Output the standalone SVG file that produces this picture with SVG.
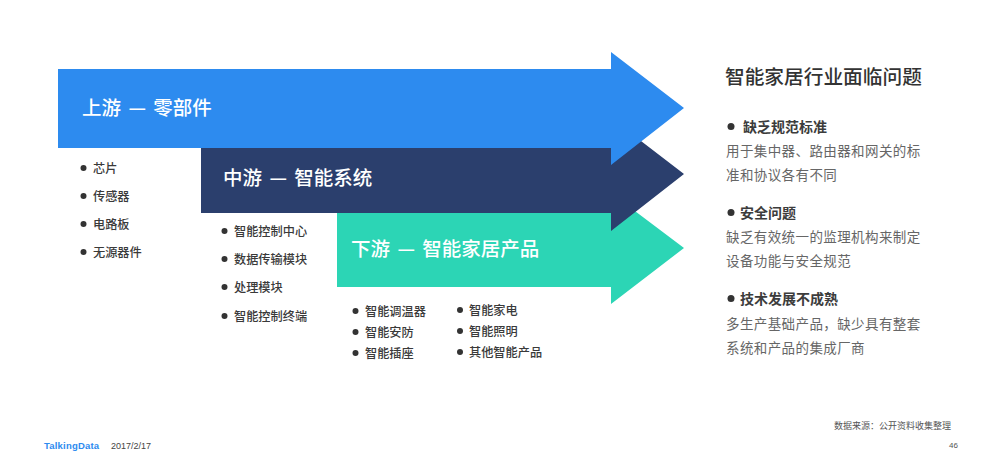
<svg xmlns="http://www.w3.org/2000/svg" width="1001" height="472" viewBox="0 0 1001 472">
<style>
text{font-family:"Noto Sans CJK SC","Liberation Sans",sans-serif}
.h{font-size:19.500px;font-weight:500;fill:#fff;word-spacing:3px}
.l{font-size:12.200px;font-weight:500;fill:#3a3a3a}
.b{font-size:14px;font-weight:700;fill:#3c3c3c}
.p{font-size:13.500px;fill:#666;letter-spacing:.4px}
.d{fill:#333}
</style>
<rect width="1001" height="472" fill="#fff"/>
<g id="arrow-downstream">
<path d="M337 213H611V193L684 248L611 304V287H337Z" fill="#2cd5b5"/>
<text class="h" x="351" y="256">下游 — 智能家居产品</text>
</g>
<g id="arrow-midstream">
<path d="M201 148H611V118L684 174L611 231V213H201Z" fill="#2b3f6d"/>
<text class="h" x="223" y="185">中游 — 智能系统</text>
</g>
<g id="arrow-upstream">
<path d="M58 69H611V52L684 108L611 165V148H58Z" fill="#2d8bef"/>
<text class="h" x="82" y="115">上游 — 零部件</text>
</g>
<g id="list-upstream">
<circle class="d" cx="83.500" cy="168" r="3"/><text class="l" x="93" y="173">芯片</text>
<circle class="d" cx="83.500" cy="196" r="3"/><text class="l" x="93" y="201">传感器</text>
<circle class="d" cx="83.500" cy="224" r="3"/><text class="l" x="93" y="229">电路板</text>
<circle class="d" cx="83.500" cy="252" r="3"/><text class="l" x="93" y="257">无源器件</text>
</g>
<g id="list-midstream">
<circle class="d" cx="224.500" cy="231" r="3"/><text class="l" x="234" y="236">智能控制中心</text>
<circle class="d" cx="224.500" cy="259" r="3"/><text class="l" x="234" y="264">数据传输模块</text>
<circle class="d" cx="224.500" cy="287" r="3"/><text class="l" x="234" y="292">处理模块</text>
<circle class="d" cx="224.500" cy="316" r="3"/><text class="l" x="234" y="321">智能控制终端</text>
</g>
<g id="list-downstream-1">
<circle class="d" cx="355.500" cy="311" r="3"/><text class="l" x="365" y="316">智能调温器</text>
<circle class="d" cx="355.500" cy="332" r="3"/><text class="l" x="365" y="337">智能安防</text>
<circle class="d" cx="355.500" cy="353" r="3"/><text class="l" x="365" y="358">智能插座</text>
</g>
<g id="list-downstream-2">
<circle class="d" cx="460" cy="310" r="3"/><text class="l" x="469" y="315">智能家电</text>
<circle class="d" cx="460" cy="331" r="3"/><text class="l" x="469" y="336">智能照明</text>
<circle class="d" cx="460" cy="352" r="3"/><text class="l" x="469" y="357">其他智能产品</text>
</g>
<g id="issues">
<text x="725" y="84" style="font-size:19.700px;font-weight:500;fill:#333">智能家居行业面临问题</text>
<circle class="d" cx="731" cy="126.500" r="3.500"/><text class="b" x="743" y="132">缺乏规范标准</text>
<text class="p" x="726" y="156">用于集中器、路由器和网关的标</text>
<text class="p" x="726" y="180">准和协议各有不同</text>
<circle class="d" cx="731" cy="212.500" r="3.500"/><text class="b" x="740" y="218">安全问题</text>
<text class="p" x="726" y="242">缺乏有效统一的监理机构来制定</text>
<text class="p" x="726" y="266">设备功能与安全规范</text>
<circle class="d" cx="731" cy="298.500" r="3.500"/><text class="b" x="740" y="304">技术发展不成熟</text>
<text class="p" x="726" y="329">多生产基础产品，缺少具有整套</text>
<text class="p" x="726" y="353">系统和产品的集成厂商</text>
</g>
<g id="footer">
<text x="44" y="449" style="font-size:9.500px;letter-spacing:.2px;font-weight:700;fill:#2d8bef;font-family:'Liberation Sans',sans-serif">TalkingData</text>
<text x="111" y="449" style="font-size:9px;fill:#444;font-family:'Liberation Sans',sans-serif">2017/2/17</text>
<text x="834" y="429" style="font-size:9px;fill:#555">数据来源：公开资料收集整理</text>
<text x="949" y="448" style="font-size:8px;fill:#555;font-family:'Liberation Sans',sans-serif">46</text>
</g>
</svg>
